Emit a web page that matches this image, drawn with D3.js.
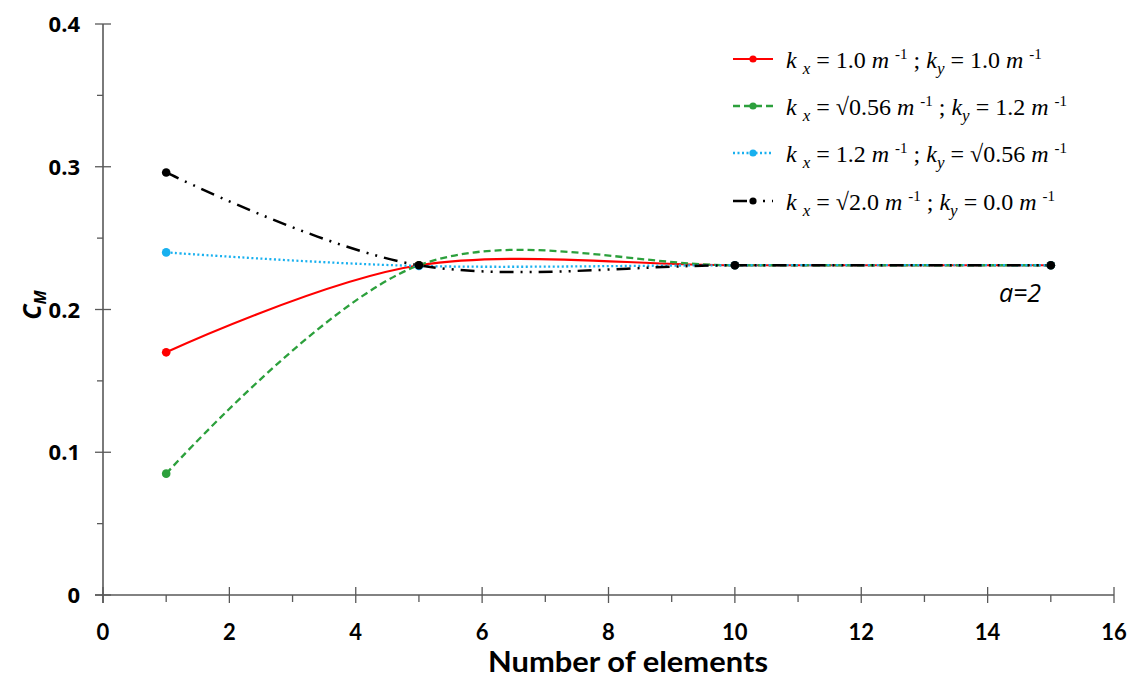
<!DOCTYPE html>
<html>
<head>
<meta charset="utf-8">
<script src="https://cdn.jsdelivr.net/npm/d3@7"></script>
<style>
  body { margin: 0; background: #fff; }
  svg { display: block; }
</style>
</head>
<body>
<svg id="chart" width="1135" height="679"></svg>
<script>
// Number of elements in the mesh
const elements = [1, 5, 10, 15];

// Moment coefficient C_M for each wave-number pair
const cmK10K10   = [0.170, 0.231, 0.231, 0.231];
const cmK056K12  = [0.085, 0.231, 0.231, 0.231];
const cmK12K056  = [0.240, 0.2305, 0.231, 0.231];
const cmK20K00   = [0.296, 0.231, 0.231, 0.231];

const xTicks = [0, 2, 4, 6, 8, 10, 12, 14, 16];
const xMinorTicks = [1, 3, 5, 7, 9, 11, 13, 15];
const yTicks = [0, 0.1, 0.2, 0.3, 0.4];
const yMinorTicks = [0.05, 0.15, 0.25, 0.35];

const series = [
  { values: cmK10K10,  color: "#ff0000", dash: null,           width: 2.2, kx: "1.0",  kxRoot: false, ky: "1.0",  kyRoot: false },
  { values: cmK056K12, color: "#2ca03c", dash: "7,4",          width: 2.3, kx: "0.56", kxRoot: true,  ky: "1.2",  kyRoot: false },
  { values: cmK12K056, color: "#18b0ef", dash: "2,2.5",        width: 2.3, kx: "1.2",  kxRoot: false, ky: "0.56", kyRoot: true },
  { values: cmK20K00,  color: "#000000", dash: "14,7,2,7,2,7", width: 2.5, kx: "2.0",  kxRoot: true,  ky: "0.0",  kyRoot: false }
];

const svg = d3.select("#chart");
const axisColor = "#595959";

const x = d3.scaleLinear().domain([0, 16]).range([103, 1114]);
const y = d3.scaleLinear().domain([0, 0.4]).range([595, 24]);

// ---- x axis ----
const xAxisG = svg.append("g").attr("transform", `translate(0,${y(0)})`);
xAxisG.append("line")
  .attr("x1", x(0) - 8).attr("x2", x(16)).attr("y1", 0).attr("y2", 0)
  .attr("stroke", axisColor).attr("stroke-width", 1.6);
xAxisG.selectAll(".xmajor").data(xTicks).join("line")
  .attr("x1", d => x(d)).attr("x2", d => x(d)).attr("y1", -8).attr("y2", 8)
  .attr("stroke", axisColor).attr("stroke-width", 1.3);
xAxisG.selectAll(".xminor").data(xMinorTicks).join("line")
  .attr("x1", d => x(d)).attr("x2", d => x(d)).attr("y1", 0).attr("y2", 7)
  .attr("stroke", axisColor).attr("stroke-width", 1.3);
xAxisG.selectAll(".xlab").data(xTicks).join("text")
  .attr("x", d => x(d)).attr("y", 45)
  .attr("text-anchor", "middle")
  .attr("font-family", "Lato, sans-serif")
  .attr("font-weight", "bold").attr("font-size", 22)
  .attr("fill", "#000")
  .text(d => d);

// ---- y axis ----
const yAxisG = svg.append("g").attr("transform", `translate(${x(0)},0)`);
yAxisG.append("line")
  .attr("x1", 0).attr("x2", 0).attr("y1", y(0.4)).attr("y2", y(0) + 8)
  .attr("stroke", axisColor).attr("stroke-width", 1.6);
yAxisG.selectAll(".ymajor").data(yTicks).join("line")
  .attr("x1", -8).attr("x2", 8).attr("y1", d => y(d)).attr("y2", d => y(d))
  .attr("stroke", axisColor).attr("stroke-width", 1.3);
yAxisG.selectAll(".yminor").data(yMinorTicks).join("line")
  .attr("x1", -6).attr("x2", 0).attr("y1", d => y(d)).attr("y2", d => y(d))
  .attr("stroke", axisColor).attr("stroke-width", 1.3);
yAxisG.selectAll(".ylab").data(yTicks).join("text")
  .attr("x", -23).attr("y", d => y(d) + 8)
  .attr("text-anchor", "end")
  .attr("font-family", "'Open Sans', sans-serif")
  .attr("font-weight", "bold").attr("font-size", 22)
  .attr("fill", "#000")
  .text(d => d === 0 ? "0" : d3.format(".1f")(d));

// ---- axis titles ----
svg.append("text")
  .attr("x", 628).attr("y", 672)
  .attr("text-anchor", "middle")
  .attr("font-family", "Lato, sans-serif")
  .attr("font-weight", "bold").attr("font-size", 28)
  .attr("textLength", 280).attr("lengthAdjust", "spacingAndGlyphs")
  .text("Number of elements");

const cmLabel = svg.append("text")
  .attr("transform", "translate(41,305) rotate(-90)")
  .attr("text-anchor", "middle")
  .attr("font-family", "'Open Sans', sans-serif")
  .attr("font-weight", "bold").attr("font-style", "italic").attr("font-size", 25);
cmLabel.append("tspan").text("C");
cmLabel.append("tspan").attr("font-size", 16).attr("dy", 5).text("M");

// ---- annotation ----
svg.append("text")
  .attr("x", 1020).attr("y", 302)
  .attr("text-anchor", "middle")
  .attr("font-family", "'Open Sans', sans-serif")
  .attr("font-style", "italic").attr("font-size", 25)
  .text("a=2");

// ---- series ----
const line = d3.line()
  .x((d, i) => x(elements[i]))
  .y(d => y(d))
  .curve(d3.curveCardinal.tension(0));

const plot = svg.append("g");
series.forEach(s => {
  plot.append("path")
    .attr("d", line(s.values))
    .attr("fill", "none")
    .attr("stroke", s.color)
    .attr("stroke-width", s.width)
    .attr("stroke-dasharray", s.dash);
});
series.forEach(s => {
  plot.selectAll(null).data(s.values).join("circle")
    .attr("cx", (d, i) => x(elements[i]))
    .attr("cy", d => y(d))
    .attr("r", 4.3)
    .attr("fill", s.color);
});

// ---- legend ----
const legend = svg.append("g");
const rowY = [59, 106, 153, 201];
series.forEach((s, i) => {
  const g = legend.append("g").attr("transform", `translate(0,${rowY[i]})`);
  g.append("line")
    .attr("x1", 733).attr("x2", 773).attr("y1", 0).attr("y2", 0)
    .attr("stroke", s.color).attr("stroke-width", s.width)
    .attr("stroke-dasharray", s.dash);
  g.append("circle").attr("cx", 753).attr("cy", 0).attr("r", 3.6).attr("fill", s.color);

  const t = g.append("text")
    .attr("x", 786).attr("y", 9)
    .attr("font-family", "'Liberation Serif', 'Times New Roman', serif")
    .attr("font-size", 24).attr("fill", "#000");
  t.append("tspan").attr("font-style", "italic").text("k ");
  t.append("tspan").attr("font-style", "italic").attr("font-size", 17).attr("dy", 6).text("x");
  t.append("tspan").attr("dy", -6).text(" = " + (s.kxRoot ? "\u221A" : "") + s.kx + " ");
  t.append("tspan").attr("font-style", "italic").text("m ");
  t.append("tspan").attr("font-size", 15).attr("dy", -9).text("-1");
  t.append("tspan").attr("dy", 9).text(" ; ");
  t.append("tspan").attr("font-style", "italic").text("k");
  t.append("tspan").attr("font-style", "italic").attr("font-size", 17).attr("dy", 6).text("y");
  t.append("tspan").attr("dy", -6).text(" = " + (s.kyRoot ? "\u221A" : "") + s.ky + " ");
  t.append("tspan").attr("font-style", "italic").text("m ");
  t.append("tspan").attr("font-size", 15).attr("dy", -9).text("-1");
});
</script>
</body>
</html>
